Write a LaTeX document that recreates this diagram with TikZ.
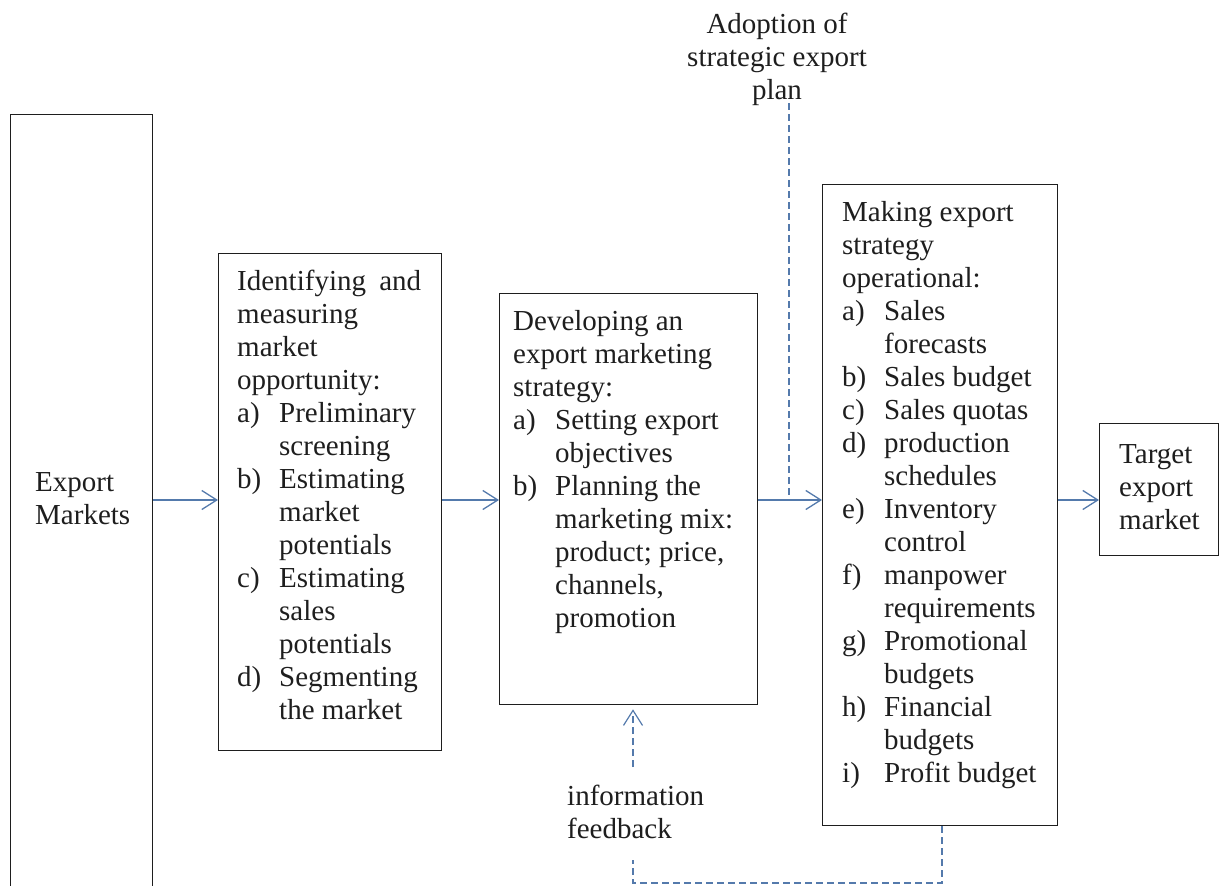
\documentclass[tikz,border=0pt]{standalone}
\usepackage{fontspec}
\setmainfont{Liberation Serif}
\usetikzlibrary{arrows.meta}
\definecolor{conn}{RGB}{84,122,172}
\definecolor{ink}{RGB}{30,30,30}
\newcommand\myitem[2]{\makebox[42pt][l]{#1}#2}
\newcommand\mycont[1]{\hspace*{42pt}#1}
\begin{document}
\begin{tikzpicture}[x=1pt,y=-1pt,
  boxst/.style={draw=ink, line width=1.3pt, rectangle, inner sep=0pt, anchor=north west},
  txt/.style={inner sep=0pt, anchor=north west, align=left, text=ink, font=\fontsize{29}{33}\selectfont},
  arr/.style={draw=conn, line width=1.3pt, -{Straight Barb[length=15pt,width=19pt,line width=1.3pt]}},
  fb/.style={draw=conn, line width=1.2pt, dash pattern=on 7pt off 4pt}]
\useasboundingbox (0,0) rectangle (1226,886);
\clip (0,0) rectangle (1226,886);
% boxes
\node[boxst, minimum width=142pt, minimum height=800pt] (em) at (10,114) {};
\node[boxst, minimum width=223pt, minimum height=497pt] (b2) at (218,253) {};
\node[boxst, minimum width=258pt, minimum height=411pt] (b3) at (499,293) {};
\node[boxst, minimum width=235pt, minimum height=641pt] (b4) at (822,184) {};
\node[boxst, minimum width=119pt, minimum height=132pt] (b5) at (1099,423) {};
% texts
\node[txt] (t1) at (35,468) {\strut Export\\ Markets};
\node[txt] (t2) at (237,267) {\strut\makebox[184pt][l]{Identifying\hfill and}\\ measuring\\ market\\ opportunity:\\ \myitem{a)}{Preliminary}\\ \mycont{screening}\\ \myitem{b)}{Estimating}\\ \mycont{market}\\ \mycont{potentials}\\ \myitem{c)}{Estimating}\\ \mycont{sales}\\ \mycont{potentials}\\ \myitem{d)}{Segmenting}\\ \mycont{the market}};
\node[txt] (t3) at (513,307) {\strut Developing an\\ export marketing\\ strategy:\\ \myitem{a)}{Setting export}\\ \mycont{objectives}\\ \myitem{b)}{Planning the}\\ \mycont{marketing mix:}\\ \mycont{product; price,}\\ \mycont{channels,}\\ \mycont{promotion}};
\node[txt] (t4) at (842,198) {\strut Making export\\ strategy\\ operational:\\ \myitem{a)}{Sales}\\ \mycont{forecasts}\\ \myitem{b)}{Sales budget}\\ \myitem{c)}{Sales quotas}\\ \myitem{d)}{production}\\ \mycont{schedules}\\ \myitem{e)}{Inventory}\\ \mycont{control}\\ \myitem{f)}{manpower}\\ \mycont{requirements}\\ \myitem{g)}{Promotional}\\ \mycont{budgets}\\ \myitem{h)}{Financial}\\ \mycont{budgets}\\ \myitem{i)}{Profit budget}};
\node[txt] (t5) at (1119,440) {\strut Target\\ export\\ market};
\node[txt, anchor=north, align=center] (adopt) at (777,10) {\strut Adoption of\\ strategic export\\ plan};
\node[txt] (info) at (567,782) {\strut information\\ feedback};
% connectors
\coordinate (lvl) at (0,500);
\draw[arr] (em.east |- lvl) -- (b2.west |- lvl);
\draw[arr] (b2.east |- lvl) -- (b3.west |- lvl);
\draw[arr] (b3.east |- lvl) -- (b4.west |- lvl);
\draw[arr] (b4.east |- lvl) -- (b5.west |- lvl);
\coordinate (ps) at (789,103);
\coordinate (pj) at (789,500);
\draw[fb] (ps) -- (pj);
\coordinate (fx) at (633,883);
\coordinate (fy) at (942,883);
\coordinate (fa) at (633,860);
\coordinate (fb0) at (633,767);
\draw[fb] (b4.south -| fy) -- (fy) -- (fx) -- (fa);
\draw[fb, -{Straight Barb[length=15pt,width=19pt,line width=1.2pt]}, shorten >=4pt] (fb0) -- (b3.south -| fx);
\end{tikzpicture}
\end{document}
